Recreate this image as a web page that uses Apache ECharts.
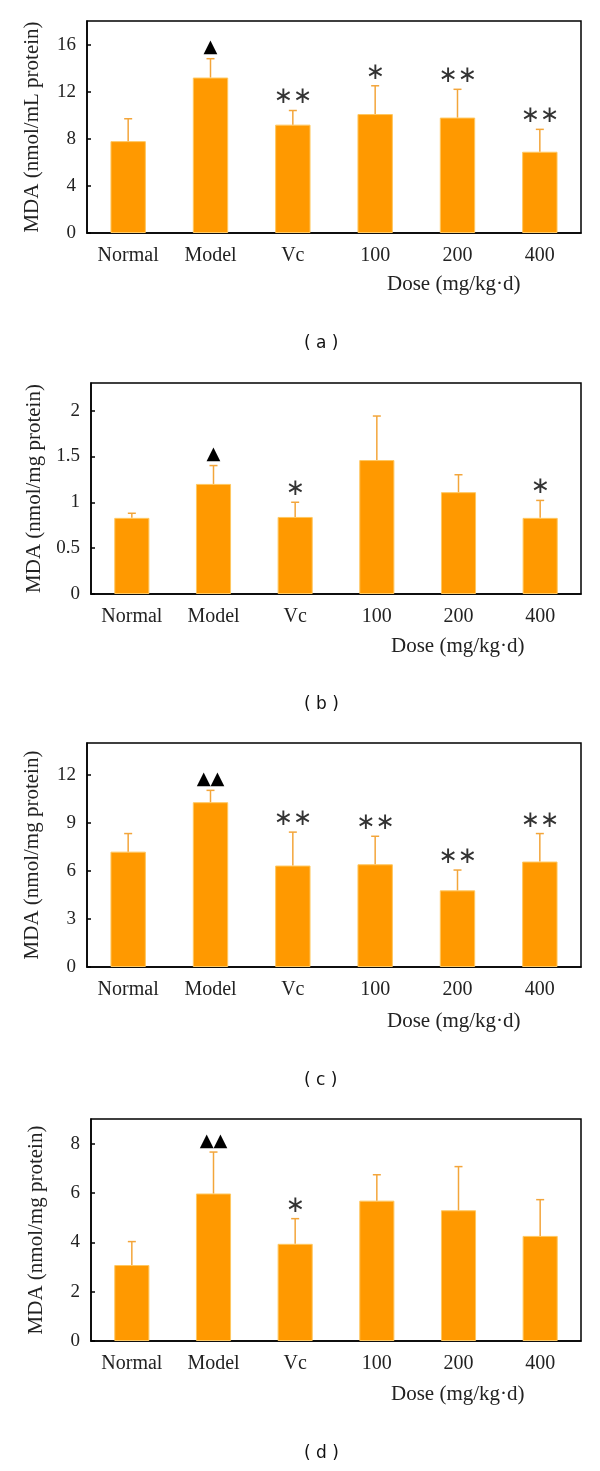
<!DOCTYPE html>
<html>
<head>
<meta charset="utf-8">
<script src="https://cdn.jsdelivr.net/npm/echarts@6/dist/echarts.min.js"></script>
<style>
html,body{margin:0;padding:0;background:#fff;}
#chart{width:600px;height:1471px;}
</style>
</head>
<body>
<div id="chart"></div>
<script>
// ---- data ----
const categories = ['Normal', 'Model', 'Vc', '100', '200', '400'];

const aMean = [7.8, 13.2, 9.2, 10.1, 9.8, 6.9];
const aSD   = [1.9, 1.6, 1.2, 2.4, 2.4, 1.9];
const aMarks = ['', '▲', '∗∗', '∗', '∗∗', '∗∗'];

const bMean = [0.83, 1.20, 0.84, 1.46, 1.11, 0.83];
const bSD   = [0.05, 0.20, 0.16, 0.48, 0.19, 0.19];
const bMarks = ['', '▲', '∗', '', '', '∗'];

const cMean = [7.21, 10.3, 6.34, 6.42, 4.79, 6.59];
const cSD   = [1.13, 0.74, 2.09, 1.75, 1.27, 1.75];
const cMarks = ['', '▲▲', '∗∗', '∗∗', '∗∗', '∗∗'];

const dMean = [3.08, 5.98, 3.94, 5.69, 5.30, 4.26];
const dSD   = [0.95, 1.68, 1.02, 1.05, 1.77, 1.47];
const dMarks = ['', '▲▲', '∗', '', '', ''];

const yNames = ['MDA (nmol/mL protein)', 'MDA (nmol/mg protein)', 'MDA (nmol/mg protein)', 'MDA (nmol/mg protein)'];
const yMax = [18, 2.3, 14, 9];
const yInterval = [4, 0.5, 3, 2];
const xName = 'Dose (mg/kg·d)';
const captions = ['( a )', '( b )', '( c )', '( d )'];

// ---- layout ----
const panels = [
  {mean: aMean, sd: aSD, marks: aMarks, top: 21, bottom: 233, left: 87},
  {mean: bMean, sd: bSD, marks: bMarks, top: 383, bottom: 594, left: 91},
  {mean: cMean, sd: cSD, marks: cMarks, top: 743, bottom: 967, left: 87},
  {mean: dMean, sd: dSD, marks: dMarks, top: 1119, bottom: 1341, left: 91}
];
const doseLabelPos = [[452, 286], [456, 648], [452, 1023], [456, 1396]];
const captionPos = [[323, 345], [323, 706], [323, 1082], [323, 1455]];

const RIGHT = 581;
const BAR = '#FF9900', BAR_EDGE = '#FFC860', ERR = '#F3A53A';
const SERIF = '"Liberation Serif", "DejaVu Serif", serif';

const grids = [], xAxes = [], yAxes = [], series = [], graphics = [];

panels.forEach((p, i) => {
  grids.push({
    left: p.left, right: 600 - RIGHT, top: p.top, height: p.bottom - p.top,
    show: true, borderColor: '#000', borderWidth: 1.5, backgroundColor: 'transparent'
  });
  xAxes.push({
    type: 'category', gridIndex: i, data: categories,
    axisLine: {show: true, lineStyle: {color: '#000', width: 1.5}},
    axisTick: {show: false},
    axisLabel: {color: '#222', fontFamily: SERIF, fontSize: 20, margin: 13}
  });
  yAxes.push({
    type: 'value', gridIndex: i, min: 0, max: yMax[i], interval: yInterval[i],
    name: yNames[i], nameLocation: 'middle', nameRotate: 90, nameGap: 44,
    nameTextStyle: {color: '#222', fontFamily: SERIF, fontSize: 21},
    axisLine: {show: true, lineStyle: {color: '#000', width: 1.5}},
    axisTick: {show: true, inside: true, length: 4, lineStyle: {color: '#000', width: 1.5}},
    axisLabel: {color: '#222', fontFamily: SERIF, fontSize: 19, margin: 11, showMaxLabel: false},
    splitLine: {show: false}
  });
  series.push({
    type: 'bar', xAxisIndex: i, yAxisIndex: i, data: p.mean, barWidth: '43%',
    itemStyle: {color: BAR, borderColor: BAR_EDGE, borderWidth: 1},
    silent: true, animation: false
  });
  const marks = p.marks;
  series.push({
    type: 'custom', xAxisIndex: i, yAxisIndex: i, silent: true, animation: false,
    data: p.mean.map((m, k) => [k, m, p.sd[k]]),
    z: 5,
    renderItem: function (params, api) {
      const k = api.value(0), m = api.value(1), s = api.value(2);
      const base = api.coord([k, m]);
      const top = api.coord([k, m + s]);
      const st = {stroke: ERR, lineWidth: 1.5, fill: null};
      const children = [
        {type: 'line', shape: {x1: base[0], y1: base[1], x2: top[0], y2: top[1]}, style: st},
        {type: 'line', shape: {x1: top[0] - 4, y1: top[1], x2: top[0] + 4, y2: top[1]}, style: st}
      ];
      const mk = marks[k];
      if (mk) {
        const tri = mk.indexOf('▲') >= 0;
        children.push({
          type: 'text',
          style: {
            text: mk, x: top[0], y: top[1] - (tri ? 11 : 13),
            align: 'center', verticalAlign: 'middle',
            fill: tri ? '#000' : '#333',
            font: tri ? '18px "DejaVu Sans"' : '23px "DejaVu Sans"'
          }
        });
      }
      return {type: 'group', children: children};
    }
  });
  graphics.push({
    type: 'text', left: doseLabelPos[i][0] - 65, top: doseLabelPos[i][1] - 12,
    style: {text: xName, fill: '#222', font: '21px ' + SERIF}
  });
  graphics.push({
    type: 'text', left: captionPos[i][0] - 19, top: captionPos[i][1] - 10,
    style: {text: captions[i], fill: '#111', font: '17px "DejaVu Sans"'}
  });
});

const chart = echarts.init(document.getElementById('chart'), null, {renderer: 'canvas'});
chart.setOption({
  animation: false,
  grid: grids, xAxis: xAxes, yAxis: yAxes, series: series, graphic: graphics
});
</script>
</body>
</html>
